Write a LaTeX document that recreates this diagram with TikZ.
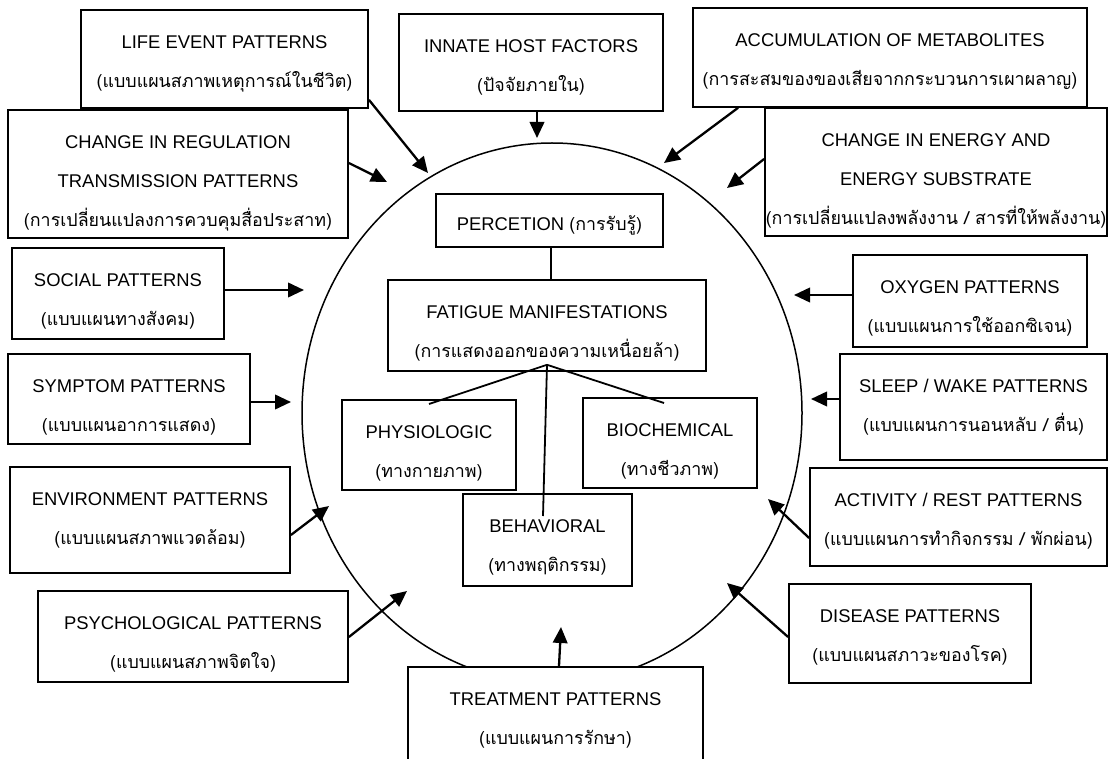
\documentclass[tikz,border=0pt]{standalone}
\usepackage{fontspec}
\setmainfont{Liberation Sans}
\newfontfamily\thai[Script=Thai, Scale=0.97]{Loma}
\usetikzlibrary{arrows.meta}
\newcommand\lines[1]{\begin{tabular}[t]{@{}c@{}}#1\end{tabular}}
\tikzset{
  box/.style={draw, line width=1.8pt, fill=white, inner sep=0pt,
    font=\fontsize{18.4}{39}\selectfont},
  sz/.style 2 args={minimum width=#1pt, minimum height=#2pt,
    text height=38.6pt, text depth={#2pt-38.6pt}},
  arr/.style={line width=2.3pt, -{Triangle[length=16pt,width=14.5pt]}},
  link/.style={line width=1.8pt},
  ring/.style={line width=1.5pt},
}
\begin{document}
\begin{tikzpicture}[x=1pt,y=-1pt]
\useasboundingbox (0,0) rectangle (1111,759);
\fill[white] (0,0) rectangle (1111,759);
% circle
\draw[ring] (552,413) ellipse [x radius=250, y radius=270];
% outer boxes (positioned by their top edge)
\node[box, sz={287}{98}, anchor=north] (life) at (224.5,9)
  {\lines{LIFE EVENT PATTERNS\\{\thai (แบบแผนสภาพเหตุการณ์ในชีวิต)}}};
\node[box, sz={264}{97}, anchor=north] (innate) at (531,13)
  {\lines{INNATE HOST FACTORS\\{\thai (ปัจจัยภายใน)}}};
\node[box, sz={394}{99}, anchor=north] (accum) at (890,7)
  {\lines{ACCUMULATION OF METABOLITES\\{\thai (การสะสมของของเสียจากกระบวนการเผาผลาญ)}}};
\node[box, sz={340}{128}, anchor=north] (changereg) at (178,109)
  {\lines{CHANGE IN REGULATION\\TRANSMISSION PATTERNS\\{\thai (การเปลี่ยนแปลงการควบคุมสื่อประสาท)}}};
\node[box, sz={342}{128}, anchor=north] (energy) at (936,107)
  {\lines{CHANGE IN ENERGY AND\\ENERGY SUBSTRATE\\{\thai (การเปลี่ยนแปลงพลังงาน / สารที่ให้พลังงาน)}}};
\node[box, sz={212}{91}, anchor=north] (social) at (118,247)
  {\lines{SOCIAL PATTERNS\\{\thai (แบบแผนทางสังคม)}}};
\node[box, sz={242}{90}, anchor=north] (symptom) at (129,353)
  {\lines{SYMPTOM PATTERNS\\{\thai (แบบแผนอาการแสดง)}}};
\node[box, sz={280}{106}, anchor=north] (env) at (150,466)
  {\lines{ENVIRONMENT PATTERNS\\{\thai (แบบแผนสภาพแวดล้อม)}}};
\node[box, sz={310}{91}, anchor=north] (psych) at (193,590)
  {\lines{PSYCHOLOGICAL PATTERNS\\{\thai (แบบแผนสภาพจิตใจ)}}};
\node[box, sz={234}{92}, anchor=north] (oxygen) at (970,254)
  {\lines{OXYGEN PATTERNS\\{\thai (แบบแผนการใช้ออกซิเจน)}}};
\node[box, sz={267}{106}, anchor=north] (sleep) at (973.5,353)
  {\lines{SLEEP / WAKE PATTERNS\\{\thai (แบบแผนการนอนหลับ / ตื่น)}}};
\node[box, sz={297}{98}, anchor=north] (activity) at (958.5,467)
  {\lines{ACTIVITY / REST PATTERNS\\{\thai (แบบแผนการทำกิจกรรม / พักผ่อน)}}};
\node[box, sz={242}{99}, anchor=north] (disease) at (910,583)
  {\lines{DISEASE PATTERNS\\{\thai (แบบแผนสภาวะของโรค)}}};
\node[box, sz={295}{124}, anchor=north] (treatment) at (555.5,666)
  {\lines{TREATMENT PATTERNS\\{\thai (แบบแผนการรักษา)}}};
% inner boxes
\node[box, minimum width=227pt, minimum height=53pt, text height=37pt, text depth=16pt,
  anchor=north] (percep) at (549.5,193)
  {PERCETION {\thai (การรับรู้)}};
\node[box, sz={318}{91}, anchor=north] (fatigue) at (547,279)
  {\lines{FATIGUE MANIFESTATIONS\\{\thai (การแสดงออกของความเหนื่อยล้า)}}};
\node[box, sz={174}{90}, anchor=north] (physio) at (429,399)
  {\lines{PHYSIOLOGIC\\{\thai (ทางกายภาพ)}}};
\node[box, sz={174}{90}, anchor=north] (biochem) at (670,397)
  {\lines{BIOCHEMICAL\\{\thai (ทางชีวภาพ)}}};
\node[box, sz={169}{92}, anchor=north] (behav) at (547.5,493)
  {\lines{BEHAVIORAL\\{\thai (ทางพฤติกรรม)}}};
% free ends of arrows
\coordinate (tLife) at (428,173);
\coordinate (tInnate) at (537,138);
\coordinate (tAccum) at (664,163);
\coordinate (tChange) at (387,182);
\coordinate (tEnergy) at (727,188);
\coordinate (tSocial) at (304,290);
\coordinate (tSymptom) at (291,402);
\coordinate (tEnv) at (329,506);
\coordinate (tPsych) at (407,591);
\coordinate (tOxygen) at (794,295);
\coordinate (tSleep) at (811,399);
\coordinate (tActivity) at (768,499);
\coordinate (tDisease) at (727,583);
\coordinate (tTreat) at (561,627);
% arrows
\draw[arr] ([yshift=9pt]life.south east) -- (tLife);
\draw[arr] ([xshift=6pt]innate.south) -- (tInnate);
\draw[arr] ([xshift=46pt]accum.south west) -- (tAccum);
\draw[arr] ([yshift=-54pt]changereg.north east) -- (tChange);
\draw[arr] ([yshift=-52pt]energy.north west) -- (tEnergy);
\draw[arr] ([yshift=-43pt]social.north east) -- (tSocial);
\draw[arr] ([yshift=-49pt]symptom.north east) -- (tSymptom);
\draw[arr] ([yshift=-69pt]env.north east) -- (tEnv);
\draw[arr] ([yshift=-47pt]psych.north east) -- (tPsych);
\draw[arr] ([yshift=-41pt]oxygen.north west) -- (tOxygen);
\draw[arr] ([yshift=-46pt]sleep.north west) -- (tSleep);
\draw[arr] ([yshift=-71pt]activity.north west) -- (tActivity);
\draw[arr] ([yshift=-54pt]disease.north west) -- (tDisease);
\draw[arr] ([xshift=3.5pt]treatment.north) -- (tTreat);
% inner links
\draw[link] ([xshift=1.5pt]percep.south) -- ([xshift=1.5pt]percep.south |- fatigue.north);
\coordinate (apex) at ([yshift=7pt]fatigue.south);
\draw[link] (apex) -- ([yshift=-5pt]physio.north);
\draw[link] (apex) -- ([xshift=-6pt,yshift=-6pt]biochem.north);
\draw[link] (apex) -- ([xshift=-4.5pt,yshift=-23pt]behav.north);
\end{tikzpicture}
\end{document}
